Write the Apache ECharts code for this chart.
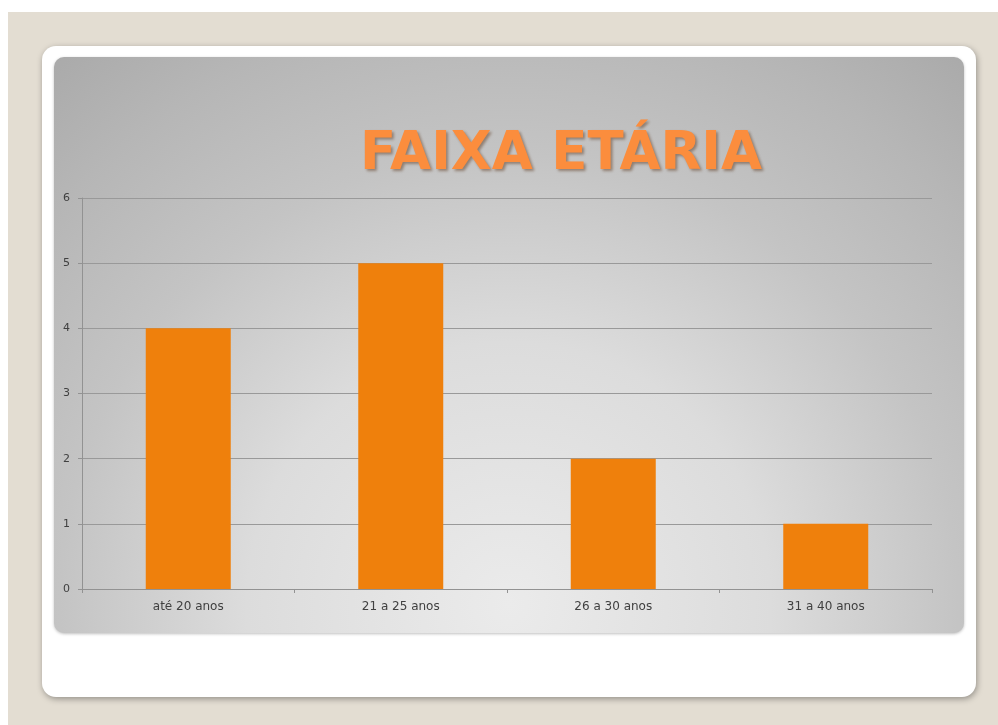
<!DOCTYPE html>
<html>
<head>
<meta charset="utf-8">
<script src="https://cdn.jsdelivr.net/npm/echarts@6/dist/echarts.min.js"></script>
<style>
  html, body { margin: 0; padding: 0; background: #fff; }
  #chart { width: 998px; height: 725px; }
</style>
</head>
<body>
<div id="chart"></div>
<script>
// dados
var categorias = ['até 20 anos', '21 a 25 anos', '26 a 30 anos', '31 a 40 anos'];
var valores = [4, 5, 2, 1];
var titulo = 'FAIXA ETÁRIA';

var chart = echarts.init(document.getElementById('chart'));
var option = {
  backgroundColor: '#ffffff',
  graphic: [
    // fundo bege
    { type: 'rect', z: -10, shape: { x: 8, y: 12, width: 990, height: 713 }, style: { fill: '#e3ddd2' } },
    // cartão branco
    {
      type: 'rect', z: -9,
      shape: { x: 42, y: 46, width: 934, height: 651, r: 14 },
      style: { fill: '#ffffff', shadowColor: 'rgba(0,0,0,0.35)', shadowBlur: 6, shadowOffsetX: 1, shadowOffsetY: 2 }
    },
    // painel cinza
    {
      type: 'rect', z: -8,
      shape: { x: 54, y: 57, width: 910, height: 576, r: 10 },
      style: {
        fill: new echarts.graphic.RadialGradient(0.5, 0.95, 1.3, [
          { offset: 0, color: '#ebebeb' },
          { offset: 0.35, color: '#dcdcdc' },
          { offset: 0.6, color: '#c4c4c4' },
          { offset: 0.8, color: '#b6b6b6' },
          { offset: 1, color: '#a6a6a6' }
        ]),
        shadowColor: 'rgba(0,0,0,0.25)', shadowBlur: 3, shadowOffsetY: 1
      }
    },
    // título
    {
      type: 'text', z: 10,
      style: {
        text: titulo,
        x: 561, y: 155,
        align: 'center',
        verticalAlign: 'middle',
        font: 'bold 53px "DejaVu Sans", Verdana, sans-serif',
        fill: '#fb8d3d',
        textShadowColor: 'rgba(80,40,10,0.45)',
        textShadowBlur: 3,
        textShadowOffsetX: 2,
        textShadowOffsetY: 2
      }
    }
  ],
  grid: { left: 82, right: 66, top: 198, bottom: 136, containLabel: false },
  xAxis: {
    type: 'category',
    data: categorias,
    boundaryGap: true,
    axisLine: { show: true, lineStyle: { color: '#929292', width: 1 } },
    axisTick: { show: true, length: 4, lineStyle: { color: '#929292' } },
    axisLabel: { color: '#404040', fontSize: 12, fontFamily: '"DejaVu Sans", Verdana, sans-serif', margin: 12 },
    splitLine: { show: false }
  },
  yAxis: {
    type: 'value',
    min: 0, max: 6, interval: 1,
    axisLine: { show: true, lineStyle: { color: '#929292', width: 1 } },
    axisTick: { show: true, length: 4, lineStyle: { color: '#929292' } },
    axisLabel: { color: '#404040', fontSize: 11, fontFamily: '"DejaVu Sans", Verdana, sans-serif', margin: 12 },
    splitLine: { show: true, lineStyle: { color: '#999999', width: 1 } }
  },
  series: [{
    type: 'bar',
    data: valores,
    barWidth: '40%',
    itemStyle: { color: '#ef800c' },
    silent: true
  }],
  animation: false
};
chart.setOption(option);
</script>
</body>
</html>
